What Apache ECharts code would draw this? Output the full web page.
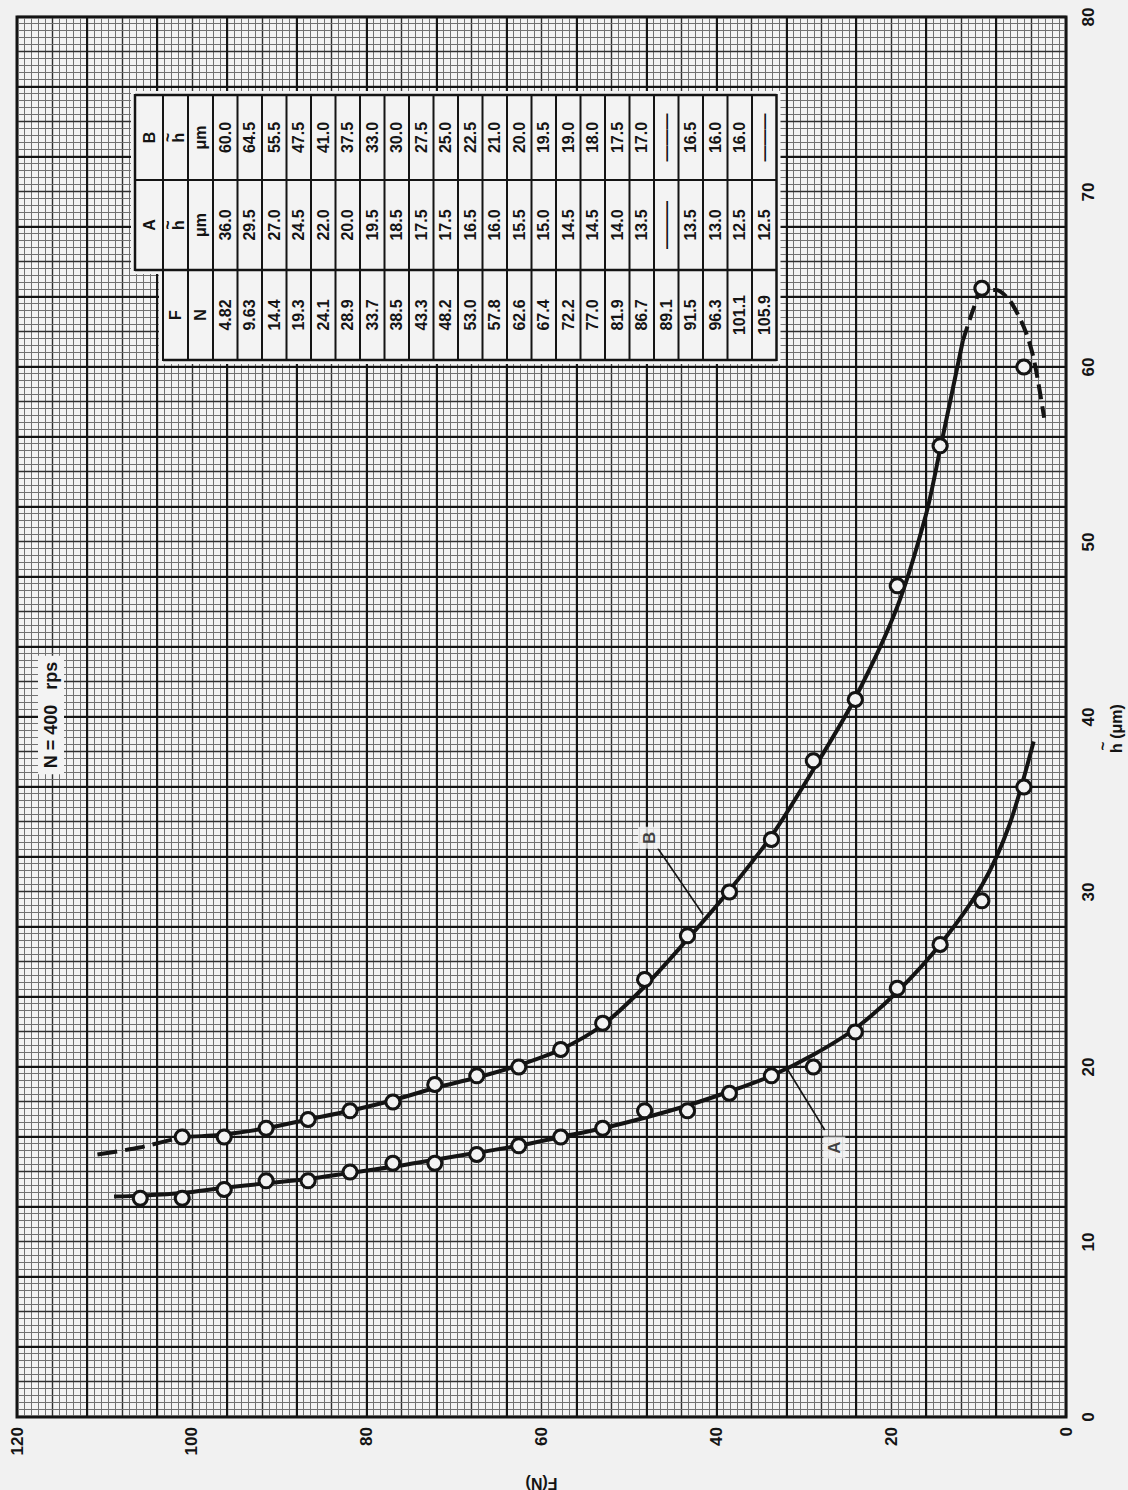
<!DOCTYPE html>
<html>
<head>
<meta charset="utf-8">
<title>Film thickness versus load, N = 400 rps</title>
<script src="https://cdn.jsdelivr.net/npm/echarts@6/dist/echarts.min.js"></script>
<style>
  html, body { margin: 0; padding: 0; width: 1128px; height: 1490px; overflow: hidden; background: #f1f1f1; }
  /* the sheet is laid out landscape and turned a quarter turn onto the portrait page */
  #sheet { position: absolute; left: -181px; top: 181px; width: 1490px; height: 1128px;
           transform: rotate(-90deg); transform-origin: 50% 50%; }
</style>
</head>
<body>
<div id="sheet"></div>
<script>
// ---- measured data -------------------------------------------------------
// Load F (N)
const loadF = [4.82, 9.63, 14.4, 19.3, 24.1, 28.9, 33.7, 38.5, 43.3, 48.2, 53.0, 57.8,
               62.6, 67.4, 72.2, 77.0, 81.9, 86.7, 89.1, 91.5, 96.3, 101.1, 105.9];
// Film thickness h~ (um), bearing A and bearing B (null = no reading)
const filmA = [36.0, 29.5, 27.0, 24.5, 22.0, 20.0, 19.5, 18.5, 17.5, 17.5, 16.5, 16.0,
               15.5, 15.0, 14.5, 14.5, 14.0, 13.5, null, 13.5, 13.0, 12.5, 12.5];
const filmB = [60.0, 64.5, 55.5, 47.5, 41.0, 37.5, 33.0, 30.0, 27.5, 25.0, 22.5, 21.0,
               20.0, 19.5, 19.0, 18.0, 17.5, 17.0, null, 16.5, 16.0, 16.0, null];

// Faired curves through the readings, as [F, h~]
const fairA = [[108.9,12.6],[105.9,12.65],[101.1,12.8],[96.3,13.1],[91.5,13.35],[86.7,13.6],
               [81.9,13.95],[77.0,14.3],[72.2,14.7],[67.4,15.1],[62.6,15.5],[57.8,16.0],
               [53.0,16.5],[48.2,17.1],[43.3,17.8],[38.5,18.6],[33.7,19.5],[28.9,20.7],
               [24.1,22.2],[19.3,24.3],[14.4,27.0],[9.6,30.4],[6.5,33.8],[3.7,38.6]];
const fairB = [[101.1,16.0],[96.3,16.15],[91.5,16.5],[86.7,17.0],[81.9,17.5],[77.0,18.1],
               [72.2,18.8],[67.4,19.4],[62.6,20.1],[57.8,21.0],[53.0,22.4],[48.2,24.6],
               [43.3,27.3],[38.5,30.1],[33.7,33.2],[28.9,37.0],[24.1,41.1],[19.3,46.3],
               [16.0,51.6],[14.4,55.3],[11.8,61.5]];
// extrapolated (dashed) ends of curve B
const fairBHigh = [[110.8,15.0],[106.0,15.4],[101.1,16.0]];
const fairBPeak = [[11.8,61.5],[10.6,63.3],[9.6,64.4],[8.0,64.4],[6.6,63.9],[5.6,63.1],
                   [4.6,62.0],[3.8,60.7],[3.2,59.2],[2.5,57.1]];

// Curve identification leaders, [h~, F]
const tagB = { text: 'B', at: [33.1, 47.7], leader: [[32.5, 46.7], [28.7, 41.5]] };
const tagA = { text: 'A', at: [15.4, 26.5], leader: [[16.4, 27.6], [19.9, 31.9]] };

// Axis tick labels
const hTicks = [0, 10, 20, 30, 40, 50, 60, 70, 80];
const fTicks = [0, 20, 40, 60, 80, 100, 120];

// ---- styling ---------------------------------------------------------------
const INK = '#141414';
const PAPER = '#f3f3f3';
const FONT = '"Liberation Sans", Arial, Helvetica, sans-serif';

const chart = echarts.init(document.getElementById('sheet'), null, { renderer: 'svg' });

const hMin = hTicks[0], hMax = hTicks[hTicks.length - 1];
const fMin = fTicks[0], fMax = fTicks[fTicks.length - 1];

// graph-paper rulings: fine, half-inch and inch lines
function rulingAxis(min, max, interval, minorSplit, lineW, lineC, z) {
  return {
    type: 'value', min: min, max: max, interval: interval, z: z,
    axisLabel: { show: false }, axisTick: { show: false }, axisLine: { show: false },
    splitLine: { show: true, lineStyle: { color: lineC, width: lineW } },
    minorTick: { show: false, splitNumber: minorSplit || 5 },
    minorSplitLine: { show: !!minorSplit, lineStyle: { color: '#717171', width: 1 } }
  };
}

const xAxes = [
  {
    type: 'value', min: hMin, max: hMax, interval: hTicks[1] - hTicks[0], position: 'bottom', z: 3,
    axisLine: { show: false, onZero: false }, axisTick: { show: false }, splitLine: { show: false },
    axisLabel: { show: true, margin: 14, color: INK, fontSize: 17, fontWeight: 'bold', fontFamily: FONT }
  },
  Object.assign(rulingAxis(hMin, hMax, 2, 5, 1.4, '#2e2e2e', 0), { position: 'bottom' }),
  Object.assign(rulingAxis(hMin, hMax, 4, 0, 2, INK, 1), { position: 'bottom' })
];
const yAxes = [
  {
    type: 'value', min: fMin, max: fMax, interval: fTicks[1] - fTicks[0], position: 'left', z: 3,
    axisLine: { show: false, onZero: false }, axisTick: { show: false }, splitLine: { show: false },
    axisLabel: { show: true, margin: 10, color: INK, fontSize: 17, fontWeight: 'bold', fontFamily: FONT },
    name: 'F(N)', nameLocation: 'middle', nameGap: 58,
    nameTextStyle: { color: INK, fontSize: 16, fontWeight: 'bold', fontFamily: FONT }
  },
  Object.assign(rulingAxis(fMin, fMax, 4, 5, 1.4, '#2e2e2e', 0), { position: 'left' }),
  Object.assign(rulingAxis(fMin, fMax, 8, 0, 2, INK, 1), { position: 'left' })
];

const toXY = pts => pts.map(p => [p[1], p[0]]);
const readings = film => loadF.map((f, i) => film[i] == null ? null : [film[i], f]).filter(Boolean);

function curve(pts, dash) {
  return {
    type: 'line', data: toXY(pts), smooth: 0.3, symbol: 'none', z: 3, silent: true,
    lineStyle: { color: INK, width: 4, type: dash || 'solid', cap: 'butt' }
  };
}
function points(film) {
  return {
    type: 'scatter', data: readings(film), symbol: 'circle', symbolSize: 14, z: 5,
    itemStyle: { color: PAPER, borderColor: INK, borderWidth: 3, opacity: 1 }
  };
}
function tag(t) {
  return [
    { type: 'line', data: t.leader, symbol: 'none', z: 4,
      lineStyle: { color: INK, width: 1.6 } },
    { type: 'scatter', data: [t.at], symbol: 'rect', symbolSize: [22, 22], z: 6,
      itemStyle: { color: PAPER, borderWidth: 0 },
      label: { show: true, position: 'inside', formatter: t.text, color: INK,
               fontSize: 17, fontWeight: 'bold', fontFamily: FONT } }
  ];
}

// ---- data table (laid out in the upper right of the sheet) ----------------
const T = { fx: 1130, ax: 1220, bx: 1310, ex: 1395, top: 135, r2: 163, r3: 188, body: 213, rowH: 24.5 };
function fmtF(v) { return v < 10 ? v.toFixed(2) : v.toFixed(1); }
function tableGraphics() {
  const els = [];
  const bottom = T.body + loadF.length * T.rowH;
  els.push({ type: 'rect', z: 20, shape: { x: T.fx - 4, y: T.r2 - 4, width: T.ex - T.fx + 8, height: bottom - T.r2 + 8 },
             style: { fill: PAPER } });
  els.push({ type: 'rect', z: 20, shape: { x: T.ax - 4, y: T.top - 4, width: T.ex - T.ax + 8, height: T.r2 - T.top + 8 },
             style: { fill: PAPER } });
  const rule = (x1, y1, x2, y2, w) =>
    els.push({ type: 'line', z: 21, shape: { x1, y1, x2, y2 }, style: { stroke: INK, lineWidth: w } });
  rule(T.ax - 1, T.top, T.ex + 1, T.top, 2.5);
  rule(T.fx - 1, T.r2, T.ex + 1, T.r2, 2);
  rule(T.fx, T.r3, T.ex, T.r3, 2);
  for (let k = 0; k <= loadF.length; k++) {
    const y = T.body + k * T.rowH;
    rule(T.fx - 1, y, T.ex + 1, y, k === loadF.length ? 2.5 : 2);
  }
  rule(T.fx, T.r2, T.fx, bottom, 2.5);
  rule(T.ax, T.top, T.ax, bottom, 2.5);
  rule(T.bx, T.top, T.bx, bottom, 2);
  rule(T.ex, T.top, T.ex, bottom, 2.5);

  const cF = (T.fx + T.ax) / 2, cA = (T.ax + T.bx) / 2, cB = (T.bx + T.ex) / 2;
  const txt = (s, x, y, extra) => els.push(Object.assign({
    type: 'text', z: 22,
    style: { text: s, x: x, y: y, align: 'center', verticalAlign: 'middle', fill: INK,
             font: 'bold 16px ' + FONT }
  }, extra || {}));
  const tilded = (x, y) => els.push({
    type: 'text', z: 22,
    style: { text: '{t|~}\n{h|h}', x: x, y: y, align: 'center', verticalAlign: 'middle', fill: INK,
             rich: { t: { fontSize: 16, fontWeight: 'bold', fontFamily: FONT, lineHeight: 8, fill: INK, align: 'center' },
                     h: { fontSize: 16, fontWeight: 'bold', fontFamily: FONT, lineHeight: 14, fill: INK, align: 'center' } } }
  });
  const h1 = (T.top + T.r2) / 2, h2 = (T.r2 + T.r3) / 2, h3 = (T.r3 + T.body) / 2;
  txt('A', cA, h1); txt('B', cB, h1);
  txt('F', cF, h2); tilded(cA, h2 - 1); tilded(cB, h2 - 1);
  txt('N', cF, h3); txt('\u03bcm', cA, h3); txt('\u03bcm', cB, h3);
  loadF.forEach((f, i) => {
    const y = T.body + (i + 0.5) * T.rowH;
    txt(fmtF(f), cF, y);
    txt(filmA[i] == null ? '\u2014\u2014\u2014' : filmA[i].toFixed(1), cA, y);
    txt(filmB[i] == null ? '\u2014\u2014\u2014' : filmB[i].toFixed(1), cB, y);
  });
  return els;
}

// axis title h~ (um) and the speed note
const titleGraphics = [
  { type: 'text', z: 22, style: { text: '~', x: 744, y: 1102, align: 'center', verticalAlign: 'middle',
                                 fill: INK, font: 'bold 15px ' + FONT } },
  { type: 'text', z: 22, style: { text: 'h (\u03bcm)', x: 737, y: 1116, align: 'left', verticalAlign: 'middle',
                                 fill: INK, font: 'bold 16px ' + FONT } },
  { type: 'text', z: 22, style: { text: 'N = 400   rps', x: 775, y: 51, align: 'center', verticalAlign: 'middle',
                                 fill: INK, font: 'bold 18px ' + FONT, backgroundColor: PAPER, padding: [4, 6] } }
];

chart.setOption({
  animation: false,
  backgroundColor: '#f1f1f1',
  grid: { left: 73, right: 17, top: 17, bottom: 62, show: true, backgroundColor: PAPER,
          borderColor: INK, borderWidth: 3, containLabel: false, outerBoundsMode: 'none' },
  xAxis: xAxes,
  yAxis: yAxes,
  series: [
    curve(fairA),
    curve(fairB),
    curve(fairBHigh, [20, 8]),
    curve(fairBPeak, [15, 7]),
    points(filmA),
    points(filmB),
    ...tag(tagA),
    ...tag(tagB)
  ],
  graphic: tableGraphics().concat(titleGraphics)
});
</script>
</body>
</html>
